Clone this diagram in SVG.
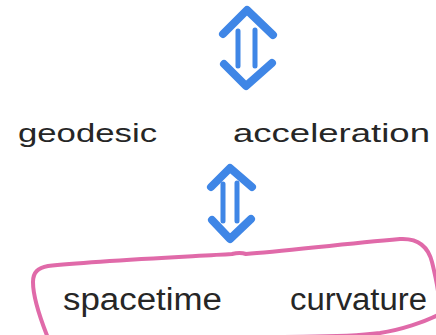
<svg xmlns="http://www.w3.org/2000/svg" width="436" height="335" viewBox="0 0 436 335">
<defs>
<style>
.txt{font-family:"Liberation Sans","DejaVu Sans",sans-serif;fill:#262626;}
.arr{fill:none;stroke:#3f86e6;stroke-linecap:round;stroke-linejoin:round;}
.chev{stroke-width:8;}
.shaft{stroke-width:5;}
.loop{fill:none;stroke:#e06aa9;stroke-width:4;stroke-linejoin:round;}
</style>
</defs>
<rect width="436" height="335" fill="#ffffff"/>
<g id="connectors">
  <g id="arrow-top">
    <path class="arr chev" d="M223,34 L247,10 L273,35"/>
    <path class="arr shaft" d="M238,31 V66 M255,30 V66"/>
    <path class="arr chev" d="M224,64 L246,86 L272,63"/>
  </g>
  <g id="arrow-middle">
    <path class="arr chev" d="M211,187 L230,168 L252,187"/>
    <path class="arr shaft" d="M223,184 V221 M237,183 V221"/>
    <path class="arr chev" d="M212,220 L230,239 L251,219"/>
  </g>
</g>
<g id="node-geodesic">
  <text class="txt" x="18" y="142" font-size="25" textLength="139" lengthAdjust="spacingAndGlyphs">geodesic</text>
</g>
<g id="node-acceleration">
  <text class="txt" x="233" y="142" font-size="25" textLength="197" lengthAdjust="spacingAndGlyphs">acceleration</text>
</g>
<g id="node-spacetime-curvature">
  <path class="loop" d="M48,338 C40,318 33,298 33,282 C33,272 38,268 48,266 C90,261 180,257 232,254 C236,253 240,252 246,254 C280,252 340,244 400,239 C418,238 428,246 432,262 C436,278 440,300 440,314 C425,322 400,330 380,333 C340,338 300,336 280,337"/>
  <text class="txt" x="63" y="310" font-size="31" textLength="159" lengthAdjust="spacingAndGlyphs">spacetime</text>
  <text class="txt" x="290" y="310" font-size="31" textLength="137" lengthAdjust="spacingAndGlyphs">curvature</text>
</g>
</svg>
